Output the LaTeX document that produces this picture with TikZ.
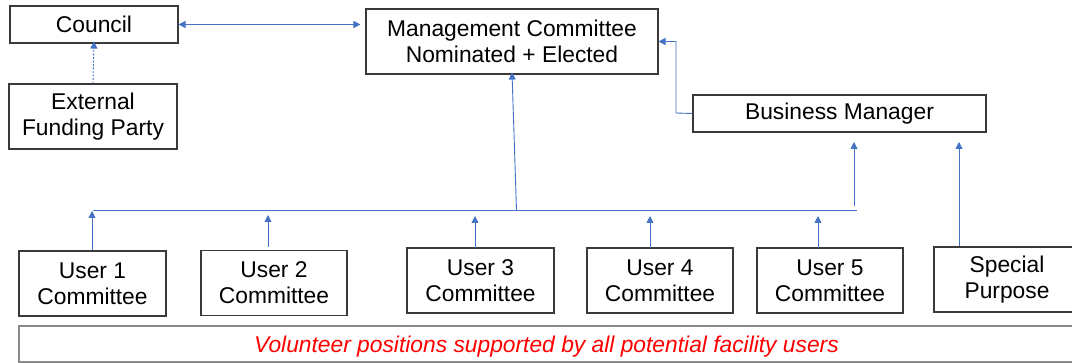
\documentclass[tikz,border=0pt]{standalone}
\usepackage{fontspec}
\setmainfont{Liberation Sans}
\usetikzlibrary{arrows.meta}
\definecolor{conn}{HTML}{4472C4}
\definecolor{boxline}{HTML}{3A3A3A}
\definecolor{barline}{HTML}{8A8A8A}
\definecolor{redtxt}{HTML}{FF0000}
\begin{document}
\begin{tikzpicture}[x=1pt,y=-1pt,
  box/.style={draw=boxline,line width=1.1pt,inner sep=0pt,align=center,
    font=\fontsize{22.8}{26}\selectfont},
  conn/.style={draw=conn,line width=0.9pt},
  tip/.style={-{Triangle[width=7pt,length=7pt]}},
  both/.style={{Triangle[width=7pt,length=7pt]}-{Triangle[width=7pt,length=7pt]}}]
\useasboundingbox (0,0) rectangle (1072,363);
\clip (0,0) rectangle (1072,363);
\fill[white] (0,0) rectangle (1072,363);
% boxes
\node[box,minimum width=168pt,minimum height=37pt] (council) at (94,24.5) {Council};
\node[box,minimum width=168pt,minimum height=65pt] (efp) at (93,116.5) {External\\Funding Party};
\node[box,minimum width=292pt,minimum height=65pt] (mc) at (512,41.5) {Management Committee\\Nominated + Elected};
\node[box,minimum width=293pt,minimum height=37pt] (bm) at (839.5,113.5) {Business Manager};
\node[box,minimum width=147pt,minimum height=65pt] (u1) at (92.5,283.5) {User 1\\Committee};
\node[box,minimum width=146pt,minimum height=65pt] (u2) at (274,283) {User 2\\Committee};
\node[box,minimum width=147pt,minimum height=65pt] (u3) at (480.5,280.5) {User 3\\Committee};
\node[box,minimum width=146pt,minimum height=65pt] (u4) at (660,280.5) {User 4\\Committee};
\node[box,minimum width=146pt,minimum height=65pt] (u5) at (830,280.5) {User 5\\Committee};
\node[box,minimum width=146pt,minimum height=65pt] (sp) at (1007,279.5) {Special\\Purpose};
\node[box,draw=barline,minimum width=1071pt,minimum height=36pt,text=redtxt,
  text height=22.4pt,text depth=4.8pt,
  font=\fontsize{22.8}{26}\selectfont\itshape] (bar) at (554.5,344)
  {\hspace*{-16pt}Volunteer positions supported by all potential facility users};
% coordinates
\coordinate (busL) at (93,210);
\coordinate (busR) at (857,210);
\coordinate (busM) at (516.5,210);
\coordinate (bmIn) at (854,142);
\coordinate (bmOut) at (854,206);
\coordinate (spIn) at (959,142);
\coordinate (spOut) at (959,246);
\coordinate (elbX) at (676,113);
% connectors
\draw[conn,both] (council.east) -- ([xshift=-5pt]mc.west |- council.east);
\draw[conn,tip,dashed,dash pattern=on 2pt off 1.5pt] (efp.north) -- ([yshift=2pt]council.south);
\draw[conn,tip] (bm.west) -- (elbX) |- ([yshift=0.5pt]mc.east |- 0,42);
\draw[conn] (busL) -- (busR);
\draw[conn,tip] (busM) -- ([yshift=2pt]mc.south);
\draw[conn,tip] (bmOut) -- (bmIn);
\draw[conn,tip] (spOut) -- (spIn);
\draw[conn,tip] (u1.north -| 92,0) -- (92,211);
\draw[conn,tip] (268,247) -- (268,215);
\draw[conn,tip] (475,248) -- (475,216);
\draw[conn,tip] (650,248) -- (650,216);
\draw[conn,tip] (818,248) -- (818,216);
\end{tikzpicture}
\end{document}
